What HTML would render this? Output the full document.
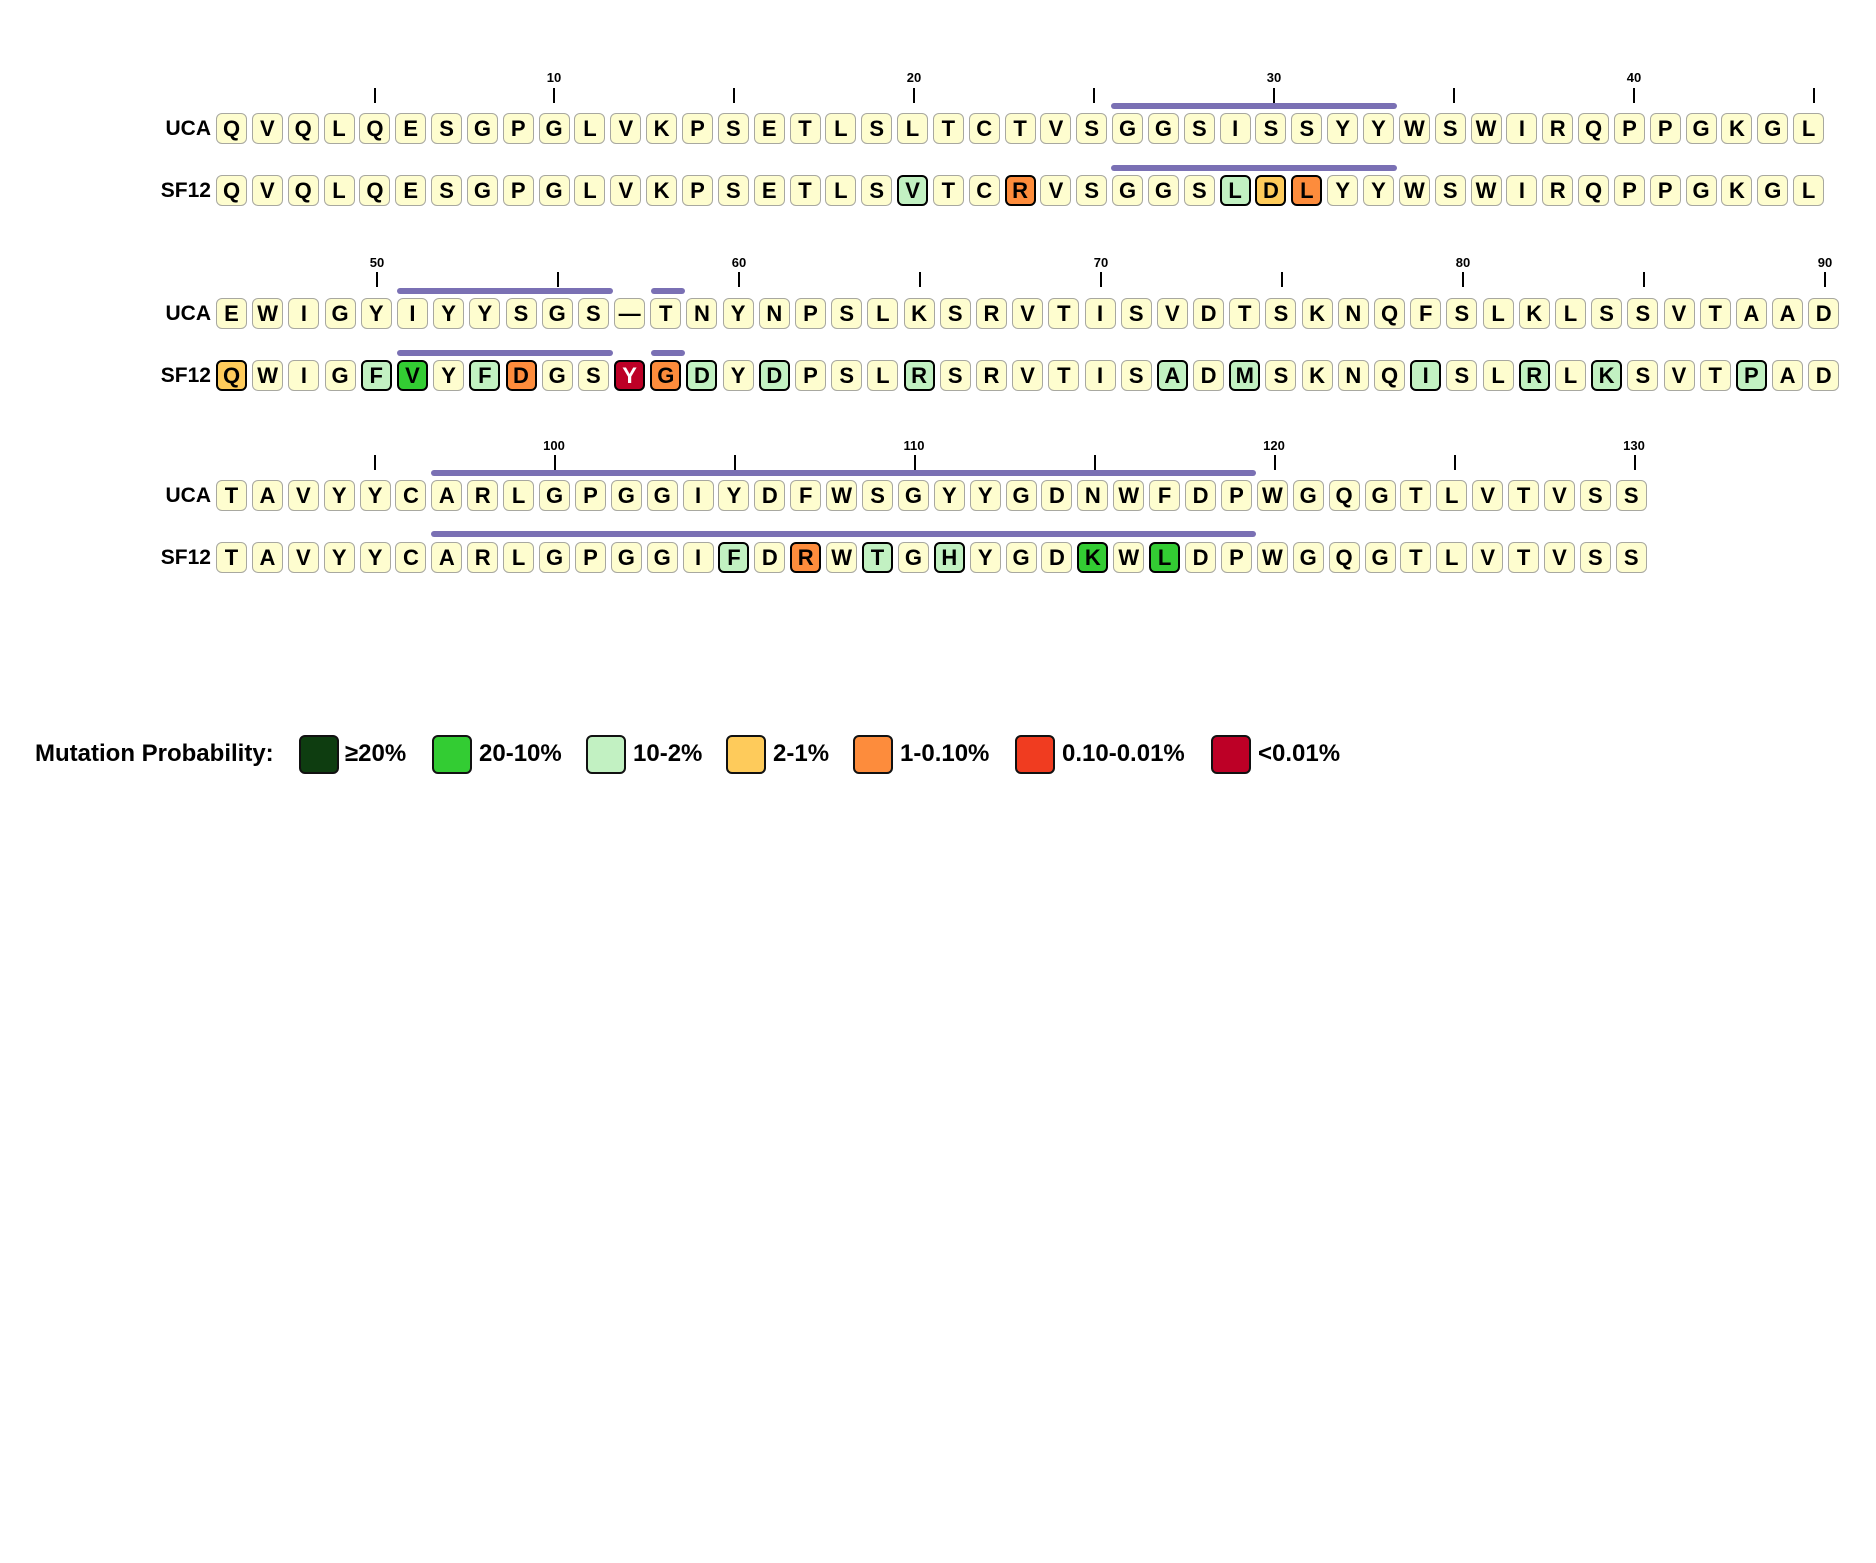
<!DOCTYPE html>
<html><head><meta charset="utf-8">
<style>
body{margin:0;width:1876px;height:1563px;background:#fff;position:relative;font-family:"Liberation Sans",sans-serif;font-weight:bold;overflow:hidden}
.row{position:absolute;left:216px;display:flex;height:31px}
.row b{box-sizing:border-box;width:31px;height:31px;border:1.5px solid #a8a8a0;border-radius:6px;background:#fefdcf;display:flex;align-items:center;justify-content:center;font-size:22px;line-height:1;color:#000;flex:none}
.r1 b{margin-right:4.85px}.r2 b{margin-right:5.2px}.r3 b{margin-right:4.9px}
.row b.m{border:2px solid #000}
.c1{background:#0e3d10!important}.c2{background:#33cc33!important}.c3{background:#c2f1c2!important}.c4{background:#fecb5b!important}.c5{background:#fd8c3c!important}.c6{background:#f03c20!important}.c7{background:#bd0026!important;color:#fff!important}
.lab{position:absolute;width:80px;text-align:right;left:131px;font-size:21px;line-height:31px}
.t{position:absolute;width:2px;height:15px;background:#000}
.n{position:absolute;width:60px;text-align:center;font-size:13px;line-height:14px}
.bar{position:absolute;height:6px;background:#7a70b4;border-radius:3px}
.lg{position:absolute;top:735px;width:36px;height:35px;border:2px solid #111;border-radius:6px}
.lt{position:absolute;top:740px;font-size:24px;line-height:28px}
</style></head><body>

<!-- Row 1 -->
<div class="n" style="left:524px;top:71px">10</div>
<div class="n" style="left:884px;top:71px">20</div>
<div class="n" style="left:1244px;top:71px">30</div>
<div class="n" style="left:1604px;top:71px">40</div>
<div class="t" style="left:374px;top:88px"></div><div class="t" style="left:553px;top:88px"></div><div class="t" style="left:733px;top:88px"></div><div class="t" style="left:913px;top:88px"></div><div class="t" style="left:1093px;top:88px"></div><div class="t" style="left:1273px;top:88px"></div><div class="t" style="left:1453px;top:88px"></div><div class="t" style="left:1633px;top:88px"></div><div class="t" style="left:1813px;top:88px"></div>
<div class="bar" style="left:1111px;width:286px;top:103px"></div>
<div class="bar" style="left:1111px;width:286px;top:165px"></div>
<div class="lab" style="top:113px">UCA</div>
<div class="row r1" style="top:113px"><b>Q</b><b>V</b><b>Q</b><b>L</b><b>Q</b><b>E</b><b>S</b><b>G</b><b>P</b><b>G</b><b>L</b><b>V</b><b>K</b><b>P</b><b>S</b><b>E</b><b>T</b><b>L</b><b>S</b><b>L</b><b>T</b><b>C</b><b>T</b><b>V</b><b>S</b><b>G</b><b>G</b><b>S</b><b>I</b><b>S</b><b>S</b><b>Y</b><b>Y</b><b>W</b><b>S</b><b>W</b><b>I</b><b>R</b><b>Q</b><b>P</b><b>P</b><b>G</b><b>K</b><b>G</b><b>L</b></div>
<div class="lab" style="top:175px">SF12</div>
<div class="row r1" style="top:175px"><b>Q</b><b>V</b><b>Q</b><b>L</b><b>Q</b><b>E</b><b>S</b><b>G</b><b>P</b><b>G</b><b>L</b><b>V</b><b>K</b><b>P</b><b>S</b><b>E</b><b>T</b><b>L</b><b>S</b><b class="m c3">V</b><b>T</b><b>C</b><b class="m c5">R</b><b>V</b><b>S</b><b>G</b><b>G</b><b>S</b><b class="m c3">L</b><b class="m c4">D</b><b class="m c5">L</b><b>Y</b><b>Y</b><b>W</b><b>S</b><b>W</b><b>I</b><b>R</b><b>Q</b><b>P</b><b>P</b><b>G</b><b>K</b><b>G</b><b>L</b></div>

<!-- Row 2 -->
<div class="n" style="left:347px;top:256px">50</div>
<div class="n" style="left:709px;top:256px">60</div>
<div class="n" style="left:1071px;top:256px">70</div>
<div class="n" style="left:1433px;top:256px">80</div>
<div class="n" style="left:1795px;top:256px">90</div>
<div class="t" style="left:376px;top:272px"></div><div class="t" style="left:557px;top:272px"></div><div class="t" style="left:738px;top:272px"></div><div class="t" style="left:919px;top:272px"></div><div class="t" style="left:1100px;top:272px"></div><div class="t" style="left:1281px;top:272px"></div><div class="t" style="left:1462px;top:272px"></div><div class="t" style="left:1643px;top:272px"></div><div class="t" style="left:1824px;top:272px"></div>
<div class="bar" style="left:397px;width:216px;top:288px"></div>
<div class="bar" style="left:651px;width:34px;top:288px"></div>
<div class="bar" style="left:397px;width:216px;top:350px"></div>
<div class="bar" style="left:651px;width:34px;top:350px"></div>
<div class="lab" style="top:298px">UCA</div>
<div class="row r2" style="top:298px"><b>E</b><b>W</b><b>I</b><b>G</b><b>Y</b><b>I</b><b>Y</b><b>Y</b><b>S</b><b>G</b><b>S</b><b>—</b><b>T</b><b>N</b><b>Y</b><b>N</b><b>P</b><b>S</b><b>L</b><b>K</b><b>S</b><b>R</b><b>V</b><b>T</b><b>I</b><b>S</b><b>V</b><b>D</b><b>T</b><b>S</b><b>K</b><b>N</b><b>Q</b><b>F</b><b>S</b><b>L</b><b>K</b><b>L</b><b>S</b><b>S</b><b>V</b><b>T</b><b>A</b><b>A</b><b>D</b></div>
<div class="lab" style="top:360px">SF12</div>
<div class="row r2" style="top:360px"><b class="m c4">Q</b><b>W</b><b>I</b><b>G</b><b class="m c3">F</b><b class="m c2">V</b><b>Y</b><b class="m c3">F</b><b class="m c5">D</b><b>G</b><b>S</b><b class="m c7">Y</b><b class="m c5">G</b><b class="m c3">D</b><b>Y</b><b class="m c3">D</b><b>P</b><b>S</b><b>L</b><b class="m c3">R</b><b>S</b><b>R</b><b>V</b><b>T</b><b>I</b><b>S</b><b class="m c3">A</b><b>D</b><b class="m c3">M</b><b>S</b><b>K</b><b>N</b><b>Q</b><b class="m c3">I</b><b>S</b><b>L</b><b class="m c3">R</b><b>L</b><b class="m c3">K</b><b>S</b><b>V</b><b>T</b><b class="m c3">P</b><b>A</b><b>D</b></div>

<!-- Row 3 -->
<div class="n" style="left:524px;top:439px">100</div>
<div class="n" style="left:884px;top:439px">110</div>
<div class="n" style="left:1244px;top:439px">120</div>
<div class="n" style="left:1604px;top:439px">130</div>
<div class="t" style="left:374px;top:455px"></div><div class="t" style="left:554px;top:455px"></div><div class="t" style="left:734px;top:455px"></div><div class="t" style="left:914px;top:455px"></div><div class="t" style="left:1094px;top:455px"></div><div class="t" style="left:1274px;top:455px"></div><div class="t" style="left:1454px;top:455px"></div><div class="t" style="left:1634px;top:455px"></div>
<div class="bar" style="left:431px;width:825px;top:470px"></div>
<div class="bar" style="left:431px;width:825px;top:531px"></div>
<div class="lab" style="top:480px">UCA</div>
<div class="row r3" style="top:480px"><b>T</b><b>A</b><b>V</b><b>Y</b><b>Y</b><b>C</b><b>A</b><b>R</b><b>L</b><b>G</b><b>P</b><b>G</b><b>G</b><b>I</b><b>Y</b><b>D</b><b>F</b><b>W</b><b>S</b><b>G</b><b>Y</b><b>Y</b><b>G</b><b>D</b><b>N</b><b>W</b><b>F</b><b>D</b><b>P</b><b>W</b><b>G</b><b>Q</b><b>G</b><b>T</b><b>L</b><b>V</b><b>T</b><b>V</b><b>S</b><b>S</b></div>
<div class="lab" style="top:542px">SF12</div>
<div class="row r3" style="top:542px"><b>T</b><b>A</b><b>V</b><b>Y</b><b>Y</b><b>C</b><b>A</b><b>R</b><b>L</b><b>G</b><b>P</b><b>G</b><b>G</b><b>I</b><b class="m c3">F</b><b>D</b><b class="m c5">R</b><b>W</b><b class="m c3">T</b><b>G</b><b class="m c3">H</b><b>Y</b><b>G</b><b>D</b><b class="m c2">K</b><b>W</b><b class="m c2">L</b><b>D</b><b>P</b><b>W</b><b>G</b><b>Q</b><b>G</b><b>T</b><b>L</b><b>V</b><b>T</b><b>V</b><b>S</b><b>S</b></div>

<!-- Legend -->
<div class="lt" style="left:35px">Mutation Probability:</div>
<div class="lg c1" style="left:299px"></div><div class="lt" style="left:345px">≥20%</div>
<div class="lg c2" style="left:432px"></div><div class="lt" style="left:479px">20-10%</div>
<div class="lg c3" style="left:586px"></div><div class="lt" style="left:633px">10-2%</div>
<div class="lg c4" style="left:726px"></div><div class="lt" style="left:773px">2-1%</div>
<div class="lg c5" style="left:853px"></div><div class="lt" style="left:900px">1-0.10%</div>
<div class="lg c6" style="left:1015px"></div><div class="lt" style="left:1062px">0.10-0.01%</div>
<div class="lg c7" style="left:1211px"></div><div class="lt" style="left:1258px">&lt;0.01%</div>
</body></html>
